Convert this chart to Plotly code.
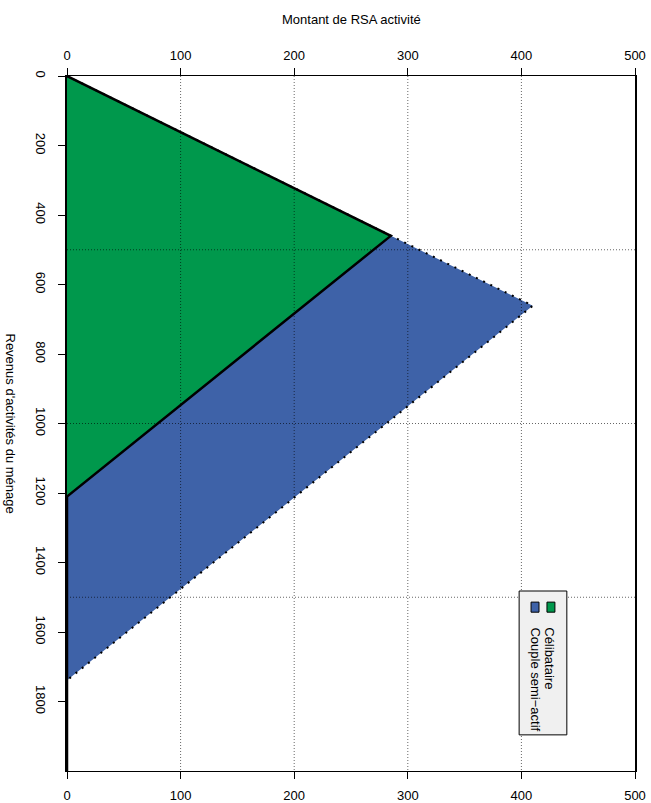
import plotly.graph_objects as go

# ---- data ----
revenus_celib = [0, 460, 1210, 2000]
rsa_celib = [0, 285, 0, 0]
revenus_couple = [0, 661, 1739, 2000]
rsa_couple = [0, 410, 0, 0]

x_ticks = [0, 100, 200, 300, 400, 500]
y_ticks = [0, 200, 400, 600, 800, 1000, 1200, 1400, 1600, 1800]
grid_x = [100, 200, 300, 400]
grid_y = [500, 1000, 1500]
x_range = [0, 500]
y_range = [2000, 0]

legend_labels = ["Célibataire", "Couple semi−actif"]

col_couple = "#3E62A8"
col_celib = "#00984C"
FONT = "Liberation Sans, Arial, Helvetica, sans-serif"

fig = go.Figure()

# fills
fig.add_trace(go.Scatter(x=rsa_couple, y=revenus_couple, fill="toself", fillcolor=col_couple,
                         mode="lines", line=dict(width=0, color=col_couple), hoverinfo="skip",
                         showlegend=False))
fig.add_trace(go.Scatter(x=rsa_celib, y=revenus_celib, fill="toself", fillcolor=col_celib,
                         mode="lines", line=dict(width=0, color=col_celib), hoverinfo="skip",
                         showlegend=False))
# outlines
fig.add_trace(go.Scatter(x=rsa_couple, y=revenus_couple, mode="lines",
                         line=dict(color="black", width=2, dash="2px,6px"),
                         hoverinfo="skip", showlegend=False))
fig.add_trace(go.Scatter(x=rsa_celib, y=revenus_celib, mode="lines",
                         line=dict(color="black", width=2.5),
                         hoverinfo="skip", showlegend=False))
# dummy trace for top axis
fig.add_trace(go.Scatter(x=x_range, y=[0, 0], xaxis="x2", mode="markers",
                         marker=dict(opacity=0), hoverinfo="skip", showlegend=False))

shapes = []
for gx in grid_x:
    shapes.append(dict(type="line", xref="x", yref="y", x0=gx, x1=gx, y0=y_range[1], y1=y_range[0],
                       line=dict(color="rgba(0,0,0,0.6)", width=1, dash="1px,2px"), layer="above"))
for gy in grid_y:
    shapes.append(dict(type="line", xref="x", yref="y", x0=x_range[0], x1=x_range[1], y0=gy, y1=gy,
                       line=dict(color="rgba(0,0,0,0.6)", width=1, dash="1px,2px"), layer="above"))

# legend (rotated, R style)
shapes.append(dict(type="rect", xref="x", yref="y", x0=398, x1=440, y0=1482, y1=1896,
                   fillcolor="#F0F0F0", line=dict(color="black", width=1), layer="above"))
for cx, col in [(412, col_couple), (426, col_celib)]:
    shapes.append(dict(type="rect", xref="x", yref="y", x0=cx - 3.5, x1=cx + 3.5, y0=1514, y1=1543,
                       fillcolor=col, line=dict(color="black", width=1), layer="above"))

annotations = [
    dict(text=legend_labels[0], x=425, y=1580, xref="x", yref="y", textangle=90,
         xanchor="center", yanchor="top", showarrow=False,
         font=dict(family=FONT, size=13, color="black")),
    dict(text=legend_labels[1], x=412.5, y=1580, xref="x", yref="y", textangle=90,
         xanchor="center", yanchor="top", showarrow=False,
         font=dict(family=FONT, size=13, color="black")),
    dict(text="Montant de RSA activité", x=0.5, y=(771 - 19) / 695, xref="paper", yref="paper",
         xanchor="center", yanchor="middle", showarrow=False,
         font=dict(family=FONT, size=13, color="black")),
    dict(text="Revenus d'activités du ménage", x=(10 - 67) / 568, y=0.5, xref="paper", yref="paper",
         textangle=90, xanchor="center", yanchor="middle", showarrow=False,
         font=dict(family=FONT, size=13, color="black")),
]

axis_common = dict(showgrid=False, zeroline=False, showline=True, linecolor="black",
                   ticks="outside", ticklen=7, tickwidth=1, tickcolor="black", automargin=False,
                   tickfont=dict(family=FONT, size=13, color="black"))

fig.update_layout(
    width=651, height=803,
    margin=dict(l=67, r=16, t=76, b=32),
    paper_bgcolor="white", plot_bgcolor="white",
    showlegend=False,
    shapes=shapes,
    annotations=annotations,
    xaxis=dict(range=x_range, tickvals=x_ticks, ticktext=[str(v) for v in x_ticks],
               side="bottom", ticklabelstandoff=5, linewidth=1, **axis_common),
    xaxis2=dict(range=x_range, tickvals=x_ticks, ticktext=[str(v) for v in x_ticks],
                side="top", overlaying="x", matches="x", ticklabelstandoff=3, linewidth=1,
                **axis_common),
    yaxis=dict(range=y_range, tickvals=y_ticks, ticktext=[str(v) for v in y_ticks],
               tickangle=90, mirror=True, ticklabelstandoff=6, linewidth=2, **axis_common),
)

fig.write_html("out.html", post_script="document.body.style.margin='0';",
               config={"displayModeBar": False})
